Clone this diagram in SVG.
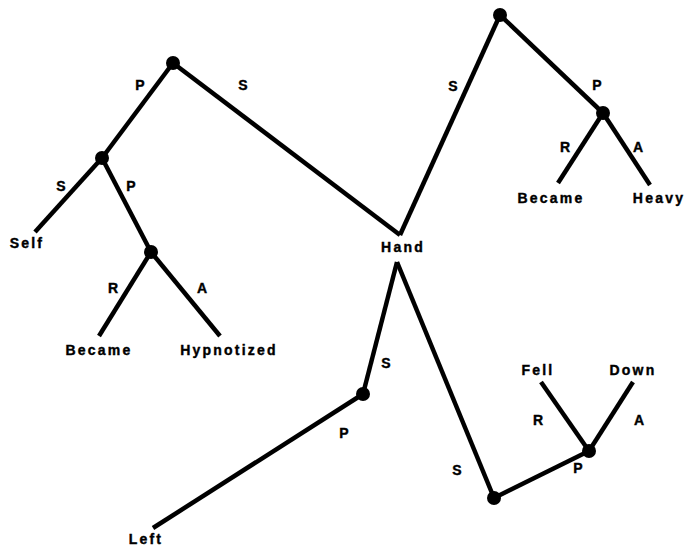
<svg xmlns="http://www.w3.org/2000/svg" width="689" height="548" viewBox="0 0 689 548">
<style>
.e{stroke:#000;stroke-width:4.5;fill:none;stroke-linecap:butt}
.d{fill:#000}
text{font-family:"Liberation Sans",Arial,sans-serif;font-weight:bold;font-size:14px;fill:#000;text-anchor:middle;letter-spacing:2.2px;stroke:#000;stroke-width:0.4px}
.l{letter-spacing:0}
</style>
<rect width="689" height="548" fill="#fff"/>
<g id="connectors">
<path class="e" d="M173,63 L102,158"/>
<path class="e" d="M173,63 L400,235"/>
<path class="e" d="M102,158 L35,232"/>
<path class="e" d="M102,158 L151,252"/>
<path class="e" d="M151,252 L99,336"/>
<path class="e" d="M151,252 L220,336"/>
<path class="e" d="M500,15 L400,235"/>
<path class="e" d="M500,15 L603,113"/>
<path class="e" d="M603,113 L558,183"/>
<path class="e" d="M603,113 L650,185"/>
<path class="e" d="M397,262 L363,394"/>
<path class="e" d="M363,394 L153,528"/>
<path class="e" d="M397,262 L494,498"/>
<path class="e" d="M494,498 L589,451"/>
<path class="e" d="M589,451 L541,382"/>
<path class="e" d="M589,451 L633,382"/>
</g>
<g id="edge-labels">
<text class="l" x="140" y="90">P</text>
<text class="l" x="243" y="90">S</text>
<text class="l" x="61" y="191">S</text>
<text class="l" x="131" y="191">P</text>
<text class="l" x="113" y="293">R</text>
<text class="l" x="202" y="293">A</text>
<text class="l" x="453" y="91">S</text>
<text class="l" x="597" y="90">P</text>
<text class="l" x="565" y="152">R</text>
<text class="l" x="638" y="152">A</text>
<text class="l" x="386" y="368">S</text>
<text class="l" x="344" y="438">P</text>
<text class="l" x="457" y="475">S</text>
<text class="l" x="578" y="473">P</text>
<text class="l" x="538" y="425">R</text>
<text class="l" x="639" y="425">A</text>
</g>
<g id="n1"><circle class="d" cx="173" cy="63" r="7"/></g>
<g id="n2"><circle class="d" cx="102" cy="158" r="7"/></g>
<g id="n3"><circle class="d" cx="151" cy="252" r="7"/></g>
<g id="n4"><circle class="d" cx="500" cy="15" r="7"/></g>
<g id="n5"><circle class="d" cx="603" cy="113" r="7"/></g>
<g id="n6"><circle class="d" cx="363" cy="394" r="7"/></g>
<g id="n7"><circle class="d" cx="494" cy="498" r="7"/></g>
<g id="n8"><circle class="d" cx="589" cy="451" r="7"/></g>
<g id="self"><text x="27" y="248">Self</text></g>
<g id="became1"><text x="99" y="355">Became</text></g>
<g id="hypnotized"><text x="229" y="355">Hypnotized</text></g>
<g id="hand"><text x="403" y="252">Hand</text></g>
<g id="became2"><text x="551" y="203">Became</text></g>
<g id="heavy"><text x="659" y="203">Heavy</text></g>
<g id="left"><text x="146" y="544">Left</text></g>
<g id="fell"><text x="538" y="375">Fell</text></g>
<g id="down"><text x="633" y="375">Down</text></g>
</svg>
